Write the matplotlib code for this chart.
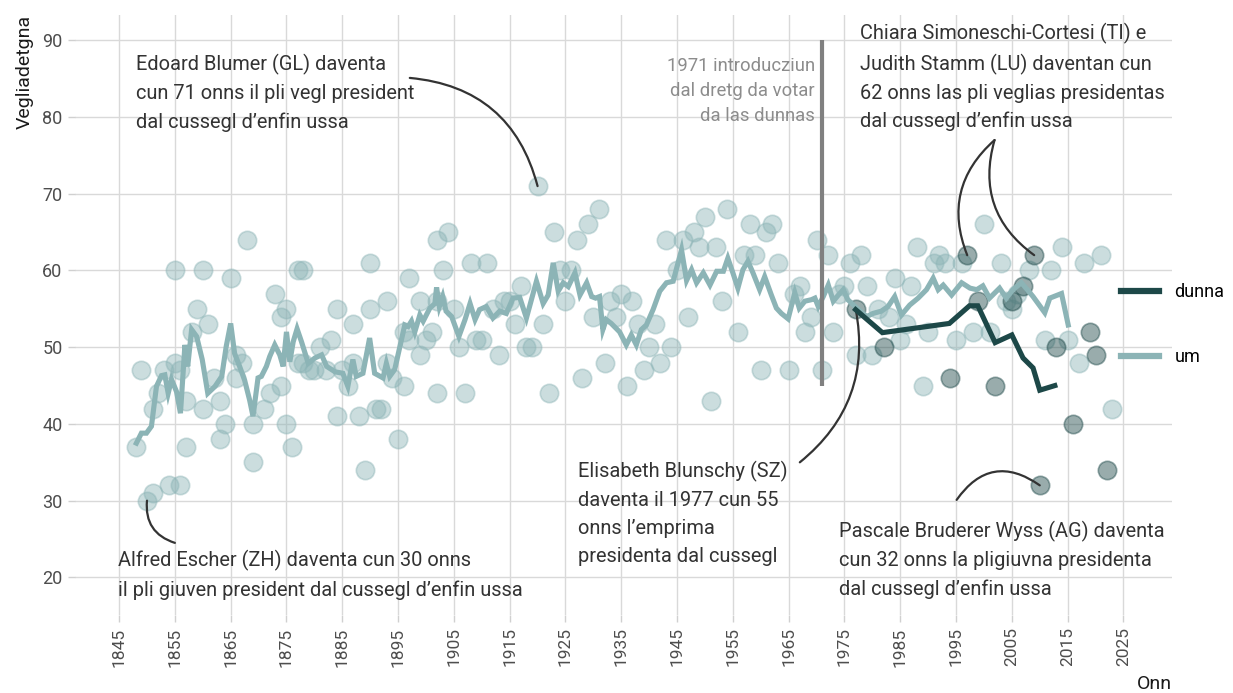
import matplotlib
matplotlib.use("Agg")
import matplotlib.pyplot as plt

# alter dals presidents (puncts)
um_onn = [1848, 1849, 1850, 1851, 1851, 1852, 1853, 1854, 1855, 1855, 1856, 1856, 1857, 1857,
          1858, 1859, 1860, 1860, 1861, 1862, 1863, 1863, 1864, 1865, 1866, 1866, 1867, 1868,
          1869, 1869, 1871, 1872, 1873, 1874, 1874, 1875, 1875, 1876, 1877, 1877, 1878, 1878,
          1879, 1880, 1881, 1882, 1883, 1884, 1884, 1885, 1886, 1887, 1887, 1888, 1889, 1890,
          1890, 1891, 1892, 1893, 1893, 1894, 1895, 1896, 1896, 1897, 1897, 1899, 1899, 1900,
          1901, 1902, 1902, 1902, 1903, 1904, 1905, 1906, 1907, 1908, 1909, 1910, 1911, 1912,
          1913, 1914, 1915, 1916, 1917, 1918, 1919, 1920, 1921, 1922, 1923, 1924, 1925, 1926,
          1927, 1928, 1929, 1930, 1931, 1932, 1933, 1934, 1935, 1936, 1937, 1938, 1939, 1940,
          1941, 1942, 1943, 1944, 1946, 1945, 1947, 1948, 1949, 1950, 1951, 1952, 1953, 1954,
          1956, 1957, 1958, 1959, 1960, 1961, 1962, 1963, 1965, 1966, 1967, 1968, 1969, 1970,
          1971, 1972, 1973, 1974, 1975, 1976, 1977, 1978, 1979, 1980, 1981, 1983, 1984, 1985,
          1986, 1987, 1988, 1989, 1990, 1991, 1992, 1993, 1995, 1996, 1998, 2000, 2001, 2003,
          2004, 2005, 2006, 2008, 2011, 2012, 2014, 2015, 2017, 2018, 2021, 2023]
um_vegl = [37, 47, 30, 31, 42, 44, 47, 32, 48, 60, 47, 32, 43, 37,
           52, 55, 60, 42, 53, 46, 43, 38, 40, 59, 46, 49, 48, 64,
           40, 35, 42, 44, 57, 54, 45, 55, 40, 37, 48, 60, 60, 48,
           47, 47, 50, 47, 51, 55, 41, 47, 45, 53, 48, 41, 34, 61,
           55, 42, 42, 56, 48, 46, 38, 52, 45, 59, 51, 56, 49, 51,
           52, 56, 64, 44, 60, 65, 55, 50, 44, 61, 51, 51, 61, 55,
           49, 56, 56, 53, 58, 50, 50, 71, 53, 44, 65, 60, 56, 60,
           64, 46, 66, 54, 68, 48, 56, 54, 57, 45, 56, 53, 47, 50,
           53, 48, 64, 50, 64, 60, 54, 65, 63, 67, 43, 63, 56, 68,
           52, 62, 66, 62, 47, 65, 66, 61, 47, 57, 58, 52, 54, 64,
           47, 62, 52, 57, 58, 61, 49, 62, 58, 49, 55, 54, 59, 51,
           53, 58, 63, 45, 52, 61, 62, 61, 51, 61, 52, 66, 52, 61,
           56, 55, 57, 60, 51, 60, 63, 51, 48, 61, 62, 42]

dunna_onn = [1977, 1982, 1994, 1997, 1999, 2002, 2005, 2007, 2009, 2010, 2013, 2016, 2019, 2020, 2022]
dunna_vegl = [55, 50, 46, 62, 56, 45, 56, 58, 62, 32, 50, 40, 52, 49, 34]

# media (lingias)
um_linea_x = [1848.1, 1849.0, 1849.9, 1850.8, 1851.7, 1852.6, 1853.2, 1853.8, 1854.4, 1855.3,
              1856.0, 1856.8, 1857.3, 1858.0, 1858.9, 1859.9, 1860.9, 1862.2, 1863.4, 1864.2,
              1865.0, 1865.7, 1866.6, 1867.5, 1868.4, 1869.0, 1869.9, 1870.5, 1871.4, 1872.0,
              1872.9, 1873.8, 1874.4, 1875.0, 1875.6, 1876.2, 1876.9, 1877.7, 1878.9, 1880.1,
              1881.3, 1882.2, 1883.7, 1885.1, 1886.0, 1886.9, 1887.5, 1888.7, 1889.9, 1890.8,
              1892.3, 1892.9, 1893.5, 1894.4, 1895.6, 1896.2, 1896.8, 1897.4, 1898.0, 1898.9,
              1899.5, 1900.7, 1901.6, 1901.9, 1902.4, 1903.0, 1903.6, 1904.6, 1905.9, 1907.0,
              1907.9, 1908.8, 1909.6, 1910.8, 1912.0, 1913.2, 1914.4, 1915.6, 1916.8, 1918.0,
              1919.8, 1921.0, 1921.9, 1922.8, 1923.7, 1924.6, 1925.5, 1926.7, 1927.6, 1928.8,
              1929.7, 1930.4, 1931.1, 1931.7, 1932.3, 1933.2, 1934.7, 1935.9, 1936.8, 1937.7,
              1938.6, 1939.5, 1940.7, 1941.9, 1943.1, 1944.3, 1945.8, 1946.7, 1947.6, 1948.5,
              1949.7, 1950.9, 1952.1, 1953.3, 1954.1, 1955.0, 1955.9, 1956.8, 1957.7, 1958.6,
              1959.8, 1960.7, 1961.9, 1962.8, 1963.7, 1964.9, 1966.1, 1966.9, 1967.9, 1969.1,
              1969.7, 1970.3, 1971.2, 1972.1, 1973.0, 1973.9, 1974.8, 1975.6, 1977.2, 1979.0,
              1980.1, 1981.6, 1982.8, 1984.0, 1985.2, 1986.7, 1988.2, 1989.7, 1990.9, 1991.8,
              1992.7, 1994.2, 1996.0, 1997.5, 1998.7, 1999.8, 2001.0, 2002.8, 2004.0, 2005.2,
              2006.7, 2008.0, 2008.8, 2010.9, 2011.8, 2013.9, 2015.1]
um_linea_y = [37.5, 38.8, 38.8, 39.7, 44.9, 46.3, 46.4, 44.0, 45.8, 44.2,
              41.4, 50.3, 47.5, 52.3, 51.4, 48.4, 44.0, 44.9, 46.2, 50.1,
              53.1, 49.2, 47.5, 45.7, 43.1, 41.0, 46.0, 46.2, 47.5, 48.8,
              50.3, 49.0, 47.5, 52.0, 48.1, 50.7, 52.4, 50.7, 47.9, 48.6,
              49.0, 47.5, 46.8, 46.6, 44.9, 48.4, 46.2, 46.6, 51.2, 46.6,
              46.0, 47.9, 46.2, 47.1, 51.0, 52.9, 52.7, 53.4, 52.0, 54.2,
              53.4, 55.1, 55.7, 57.8, 55.3, 56.6, 54.7, 54.0, 51.4, 53.6,
              55.7, 53.6, 54.9, 55.3, 53.8, 54.7, 54.4, 56.4, 56.5, 53.8,
              58.6, 55.7, 56.8, 61.0, 57.3, 58.4, 57.9, 59.7, 56.8, 58.4,
              56.6, 56.4, 56.6, 52.3, 53.6, 53.1, 52.0, 50.3, 51.6, 50.3,
              52.3, 52.9, 54.9, 57.3, 58.4, 58.6, 62.7, 58.7, 60.1, 58.4,
              59.7, 58.1, 59.9, 59.9, 61.6, 59.7, 57.7, 60.1, 61.2, 59.7,
              57.5, 59.2, 56.8, 55.1, 54.4, 53.7, 57.1, 55.1, 56.0, 56.2,
              56.4, 55.3, 56.6, 58.1, 56.0, 56.8, 57.5, 56.2, 55.1, 54.0,
              54.4, 54.7, 55.3, 56.6, 54.2, 55.5, 56.4, 57.5, 59.0, 57.5,
              58.1, 56.8, 58.4, 57.7, 57.5, 58.0, 56.4, 57.7, 56.4, 57.5,
              58.4, 57.3, 56.6, 54.5, 56.4, 57.0, 52.9]

dunna_linea_x = [1977.0, 1981.8, 1993.8, 1997.4, 1998.9, 2002.0, 2005.0, 2007.0, 2008.8, 2010.0, 2012.7]
dunna_linea_y = [54.9, 51.9, 53.1, 55.4, 55.4, 50.6, 51.6, 48.6, 47.3, 44.4, 45.0]

anni_ticks = list(range(1845, 2026, 10))
vegl_ticks = list(range(20, 91, 10))

col_um = '#8cb4b6'
col_dunna = '#1d4848'
narrow = ['Liberation Sans Narrow', 'Roboto', 'DejaVu Sans']
txtfont = ['Roboto', 'DejaVu Sans']

fig = plt.figure(figsize=(12.33, 6.93), dpi=100)
ax = fig.add_axes([75 / 1233, 78 / 693, 1097 / 1233, 600 / 693])

ax.scatter(um_onn, um_vegl, s=175, color=col_um, alpha=0.45, edgecolor=col_um, linewidth=1.2, zorder=2)
ax.scatter(dunna_onn, dunna_vegl, s=175, color=col_dunna, alpha=0.45, edgecolor=col_dunna, linewidth=1.2, zorder=3)
ax.plot(um_linea_x, um_linea_y, color=col_um, lw=3.7, solid_joinstyle='miter', zorder=4, label='um')
ax.plot(dunna_linea_x, dunna_linea_y, color=col_dunna, lw=3.7, solid_joinstyle='miter', zorder=5, label='dunna')

ax.vlines(1971, 45, 90, color='#808080', lw=3, zorder=4)

ax.set_xlim(1837.1, 2033.7)
ax.set_ylim(15.1, 93.3)
ax.set_xticks(anni_ticks)
ax.set_yticks(vegl_ticks)
ax.set_xticklabels([str(a) for a in anni_ticks], rotation=90, family=narrow, fontsize=12.5, color='#4d4d4d')
ax.set_yticklabels([str(v) for v in vegl_ticks], family=narrow, fontsize=13, color='#4d4d4d')
ax.tick_params(axis='both', length=5, color='#d0d0d0', width=1, pad=4)
ax.grid(True, color='#d9d9d9', lw=1)
ax.set_axisbelow(True)
for s in ax.spines.values():
    s.set_visible(False)

ax.set_ylabel('Vegliadetgna', family=narrow, fontsize=14, color='#1a1a1a', loc='top', labelpad=6)
ax.set_xlabel('Onn', family=narrow, fontsize=14, color='#1a1a1a', loc='right', labelpad=6)

h, l = ax.get_legend_handles_labels()
leg = ax.legend(h[::-1], l[::-1], loc='center left', bbox_to_anchor=(0.9535, 0.484), frameon=False,
                handlelength=2.1, handletextpad=0.85, labelspacing=2.6, borderpad=0, borderaxespad=0,
                prop={'family': narrow, 'size': 13})
for ln in leg.get_lines():
    ln.set_linewidth(4.5)

tkw = dict(family=txtfont, fontsize=14.4, color='#333333', linespacing=1.6, va='top', ha='left')
ax.text(1848.0, 88.2, 'Edoard Blumer (GL) daventa\ncun 71 onns il pli vegl president\ndal cussegl d\u2019enfin ussa', **tkw)
ax.text(1844.8, 23.6, 'Alfred Escher (ZH) daventa cun 30 onns\nil pli giuven president dal cussegl d\u2019enfin ussa', **tkw)
ax.text(1927.2, 35.2, 'Elisabeth Blunschy (SZ)\ndaventa il 1977 cun 55\nonns l\u2019emprima\npresidenta dal cussegl', **tkw)
ax.text(1977.7, 92.3, 'Chiara Simoneschi-Cortesi (TI) e\nJudith Stamm (LU) daventan cun\n62 onns las pli veglias presidentas\ndal cussegl d\u2019enfin ussa', **tkw)
ax.text(1974.1, 27.4, 'Pascale Bruderer Wyss (AG) daventa\ncun 32 onns la pligiuvna presidenta\ndal cussegl d\u2019enfin ussa', **tkw)
ax.text(1969.7, 87.8, '1971 introducziun\ndal dretg da votar\nda las dunnas', family=txtfont, fontsize=13.3,
        color='#8c8c8c', linespacing=1.5, va='top', ha='right')

akw = dict(arrowstyle='-', color='#333333', lw=1.6, shrinkA=0, shrinkB=0)
ax.annotate('', xy=(1920, 71), xytext=(1897.1, 85.1), arrowprops=dict(connectionstyle='arc3,rad=-0.35', **akw))
ax.annotate('', xy=(1855, 24.5), xytext=(1850, 30), arrowprops=dict(connectionstyle='arc3,rad=0.4', **akw))
ax.annotate('', xy=(1977, 55), xytext=(1967, 35), arrowprops=dict(connectionstyle='arc3,rad=0.3', **akw))
ax.annotate('', xy=(1997, 62), xytext=(2001.9, 77), arrowprops=dict(connectionstyle='arc3,rad=0.35', **akw))
ax.annotate('', xy=(2009, 62), xytext=(2001.9, 77), arrowprops=dict(connectionstyle='arc3,rad=0.35', **akw))
ax.annotate('', xy=(2010, 32), xytext=(1995.1, 30.1), arrowprops=dict(connectionstyle='arc3,rad=-0.5', **akw))

fig.savefig('out.png', dpi=100)
